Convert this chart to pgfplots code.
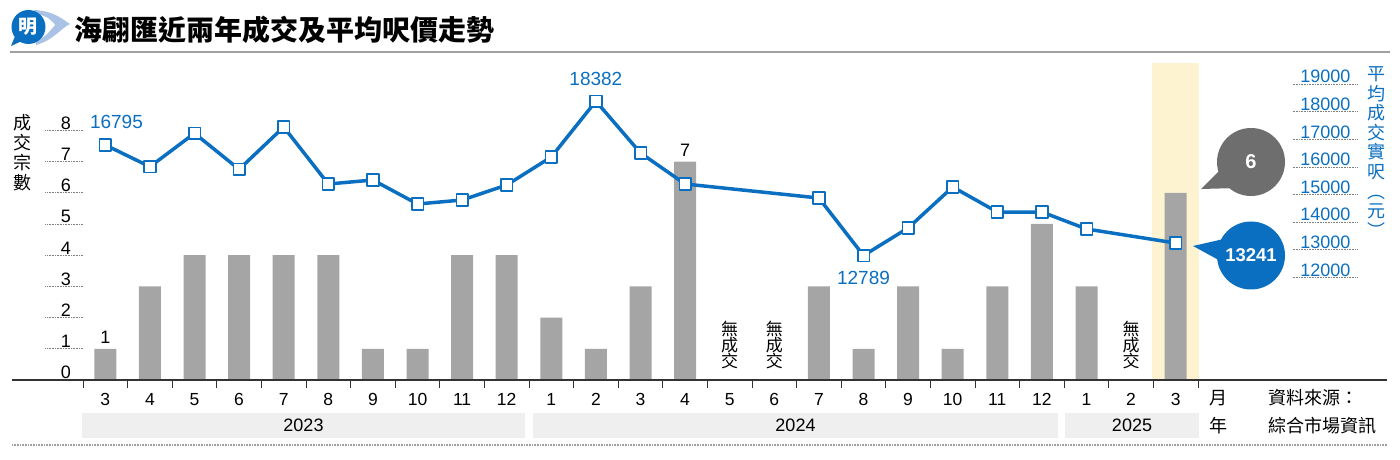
\documentclass[border=0pt]{standalone}
\usepackage{pgfplots}
\pgfplotsset{compat=1.18}
\usepackage{fontspec}
\setmainfont{Liberation Sans}
\newfontfamily\cjk{Noto Sans CJK TC}
\definecolor{mblue}{HTML}{0B6FC1}
\definecolor{lblue}{HTML}{A9C2E6}
\definecolor{barg}{HTML}{A5A5A5}
\definecolor{callg}{HTML}{6E6E6E}
\definecolor{yel}{HTML}{FEF3D0}
\definecolor{bandg}{HTML}{EFEFEF}
\definecolor{linegray}{HTML}{A0A0A0}
\newcommand{\fs}[1]{\fontsize{#1}{#1}\selectfont}
\begin{document}
\begin{tikzpicture}[x=1pt,y=1pt]
\path[use as bounding box] (0,0) rectangle (1400,460);
% logo
\fill[lblue] (34,450) .. controls (54,449) and (62,441) .. (70,436) .. controls (61,432) and (54,420) .. (36,415) -- cycle;
\fill[white] (36,446) .. controls (48,444) and (52,439) .. (55,435) .. controls (51,431) and (47,424) .. (38,420) -- cycle;
\fill[mblue] (28.5,433) circle (17);
\fill[mblue] (11,414) -- (16,426) -- (22,419) -- cycle;
\node[white,font=\cjk\bfseries\fs{19}] at (28.5,433) {明};
% title
\node[anchor=west,font=\cjk\bfseries\fs{28}, inner sep=0] at (74,430) {海翩匯近兩年成交及平均呎價走勢};
\draw[linegray, line width=2.5pt] (10,408) -- (1390,408);
% year bands
\fill[bandg] (82,22) rectangle (525,47);
\fill[bandg] (533,22) rectangle (1058,47);
\fill[bandg] (1065,22) rectangle (1199,47);
\node[font=\fs{18}] at (303.5,34.5) {2023};
\node[font=\fs{18}] at (795.5,34.5) {2024};
\node[font=\fs{18}] at (1132,34.5) {2025};
\draw[linegray, line width=1.5pt, dash pattern=on 1pt off 0.6pt] (12,15) -- (1387,15);
\node[font=\cjk\fs{18}] at (1218,62) {月};
\node[font=\cjk\fs{18}] at (1218,34.5) {年};
\node[anchor=west,font=\cjk\fs{18},inner sep=0] at (1268,62) {資料來源：};
\node[anchor=west,font=\cjk\fs{18},inner sep=0] at (1268,34.5) {綜合市場資訊};
% axis titles
\node[font=\cjk\fontsize{18}{20}\selectfont,align=center,inner sep=0] at (22,307) {成\\交\\宗\\數};
\node[font=\cjk\fontsize{18}{19.6}\selectfont,align=center,inner sep=0,mblue] at (1376,308) {平\\均\\成\\交\\實\\呎\\︵\\元\\︶};
\begin{axis}[
  at={(83pt,80pt)}, anchor=south west, scale only axis,
  width=1115pt, height=317pt,
  xmin=-0.5, xmax=24.5, ymin=0, ymax=10.16,
  axis line style={draw=none},
  clip=false,
  tick align=outside, major tick length=8pt,
  xtick pos=bottom, ytick pos=left,
  xtick={-0.5,0.5,...,24.5},
  x tick label as interval,
  xticklabels={3,4,5,6,7,8,9,10,11,12,1,2,3,4,5,6,7,8,9,10,11,12,1,2,3},
  xtick style={draw=black!80, line width=1pt},
  xticklabel style={font=\fs{17.5}, yshift=-2pt},
  ytick={0,1,2,3,4,5,6,7,8},
  yticklabels={0,1,2,3,4,5,6,7,8},
  ytick style={draw=none},
  yticklabel style={font=\fs{18}, anchor=south, xshift=-9pt, yshift=-2.5pt},
]
\fill[yel] (axis cs:23.47,0) rectangle (axis cs:24.52,10.16);
\pgfplotsinvokeforeach{0,1,2,3,4,5,6,7,8}{
  \draw[gray, line width=0.8pt, dash pattern=on 0.8pt off 0.8pt] (axis cs:-1.345,#1) -- (axis cs:-0.5,#1);
}
\addplot[ybar, bar width=22pt, fill=barg, draw=none] coordinates {
 (0,1) (1,3) (2,4) (3,4) (4,4) (5,4) (6,1) (7,1) (8,4) (9,4)
 (10,2) (11,1) (12,3) (13,7) (16,3) (17,1) (18,3) (19,1) (20,3) (21,5)
 (22,3) (24,6)
};
\node[anchor=south, font=\fs{18}, inner sep=5pt] at (axis cs:0,1) {1};
\node[anchor=south, font=\fs{18}, inner sep=5pt] at (axis cs:13,7) {7};
\node[font=\cjk\fs{17},align=center,inner sep=0] at (axis cs:14,1.12) {無\\[-1pt]成\\[-1pt]交};
\node[font=\cjk\fs{17},align=center,inner sep=0] at (axis cs:15,1.12) {無\\[-1pt]成\\[-1pt]交};
\node[font=\cjk\fs{17},align=center,inner sep=0] at (axis cs:23,1.12) {無\\[-1pt]成\\[-1pt]交};
\end{axis}
\draw[black!80, line width=1.6pt] (12,80) -- (1387,80);
\begin{axis}[
  at={(83pt,80pt)}, anchor=south west, scale only axis,
  width=1115pt, height=317pt,
  xmin=-0.5, xmax=24.5, ymin=8279, ymax=19765,
  axis line style={draw=none},
  clip=false,
  xtick=\empty,
  axis y line*=right,
  scaled y ticks=false,
  ytick={12000,13000,14000,15000,16000,17000,18000,19000},
  yticklabels={12000,13000,14000,15000,16000,17000,18000,19000},
  ytick style={draw=none},
  yticklabel style={font=\fs{18}, text=mblue, anchor=south east, xshift=156pt, yshift=-2.5pt},
]
\pgfplotsinvokeforeach{12000,13000,14000,15000,16000,17000,18000,19000}{
  \draw[gray, line width=0.8pt, dash pattern=on 0.8pt off 0.8pt] (axis cs:26.62,#1) -- (axis cs:28.08,#1);
}
\addplot[mblue, line width=3.5pt, line join=round, mark=square*, mark size=5.8pt,
  mark options={fill=white, draw=mblue, line width=1.6pt, solid}] coordinates {
 (0,16795) (1,16007) (2,17217) (3,15913) (4,17446) (5,15380) (6,15525) (7,14656)
 (8,14800) (9,15344) (10,16359) (11,18382) (12,16504) (13,15380)
 (16,14873) (17,12789) (18,13786) (19,15272) (20,14366) (21,14366)
 (22,13750) (24,13241)
};
\node[font=\fs{19}, text=mblue] at (axis cs:0.25,17620) {16795};
\node[font=\fs{19}, text=mblue] at (axis cs:11,19180) {18382};
\node[font=\fs{19}, text=mblue] at (axis cs:17,11990) {12789};
\end{axis}
% callouts
\fill[callg] (1201,271) -- (1222,292) -- (1238,272) -- cycle;
\fill[callg] (1251,298) circle (34);
\node[white, font=\bfseries\fs{20}] at (1251,298) {6};
\fill[mblue] (1193,214) -- (1228,222) -- (1226,196) -- cycle;
\fill[mblue] (1251,204.5) circle (34);
\node[white, font=\bfseries\fs{18.5}] at (1251,204.5) {13241};
\end{tikzpicture}
\end{document}
